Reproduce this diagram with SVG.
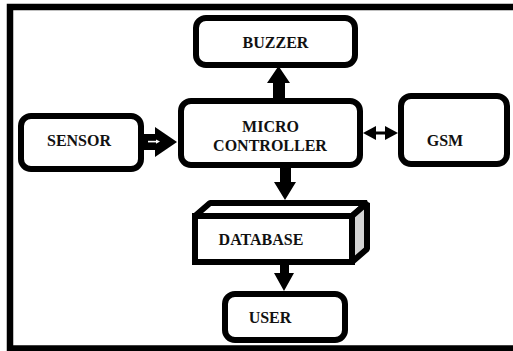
<svg xmlns="http://www.w3.org/2000/svg" width="513" height="351" viewBox="0 0 513 351">
  <style>
    .box { fill: #ffffff; stroke: #000000; stroke-width: 6; }
    .label { font-family: "Liberation Serif", "Times New Roman", serif; font-weight: bold; font-size: 16px; fill: #111111; text-anchor: middle; }
    .solid { fill: #000000; }
    .cube { stroke: #000000; stroke-width: 6; stroke-linejoin: bevel; }
  </style>
  <rect width="513" height="351" fill="#ffffff"/>
  <!-- outer frame -->
  <rect x="10" y="7" width="530" height="341.5" fill="none" stroke="#000000" stroke-width="6.5"/>

  <g id="buzzer">
    <rect class="box" x="196" y="18" width="159" height="47" rx="10"/>
    <text class="label" x="275.5" y="48">BUZZER</text>
  </g>

  <g id="microcontroller">
    <rect class="box" x="181" y="101" width="179" height="64" rx="10"/>
    <text class="label" x="270.5" y="132">MICRO</text>
    <text class="label" x="270" y="151">CONTROLLER</text>
  </g>

  <g id="sensor">
    <rect class="box" x="21" y="116" width="120" height="53" rx="10"/>
    <text class="label" x="79" y="146">SENSOR</text>
  </g>

  <g id="gsm">
    <rect class="box" x="401" y="96" width="106" height="68" rx="10"/>
    <text class="label" x="445" y="146">GSM</text>
  </g>

  <g id="database">
    <polygon class="cube" points="195,216 210,203 367,203 352,216" fill="#ffffff"/>
    <polygon class="cube" points="352,216 367,203 367,249 352,262" fill="#d4d4d4"/>
    <rect x="195" y="216" width="157" height="46" fill="#ffffff" stroke="#000000" stroke-width="6"/>
    <text class="label" x="261" y="245">DATABASE</text>
  </g>

  <g id="user">
    <rect class="box" x="225" y="294" width="120" height="46" rx="10"/>
    <text class="label" x="270" y="323">USER</text>
  </g>

  <g id="connectors">
    <!-- controller to buzzer -->
    <polygon class="solid" points="273,98 285,98 285,83 290,83 278.5,66 267,83 273,83"/>
    <!-- sensor to controller (hollow-stripe arrow) -->
    <rect class="solid" x="143" y="134" width="13" height="16"/>
    <polygon class="solid" points="155,127 177,142 155,157"/>
    <rect x="148" y="140.8" width="9" height="1.6" fill="#ffffff"/>
    <polygon points="156,139.5 160,141.6 156,143.7" fill="#ffffff"/>
    <!-- controller to gsm (two-way) -->
    <rect class="solid" x="372" y="131.5" width="16" height="3"/>
    <polygon class="solid" points="363,133 376,126 376,140"/>
    <polygon class="solid" points="398,133 385,126 385,140"/>
    <!-- controller to database -->
    <polygon class="solid" points="280,168 291,168 291,182 296,182 285,200 274,182 280,182"/>
    <!-- database to user -->
    <polygon class="solid" points="280,265 289,265 289,273 294,273 284,291 274,273 280,273"/>
  </g>
</svg>
